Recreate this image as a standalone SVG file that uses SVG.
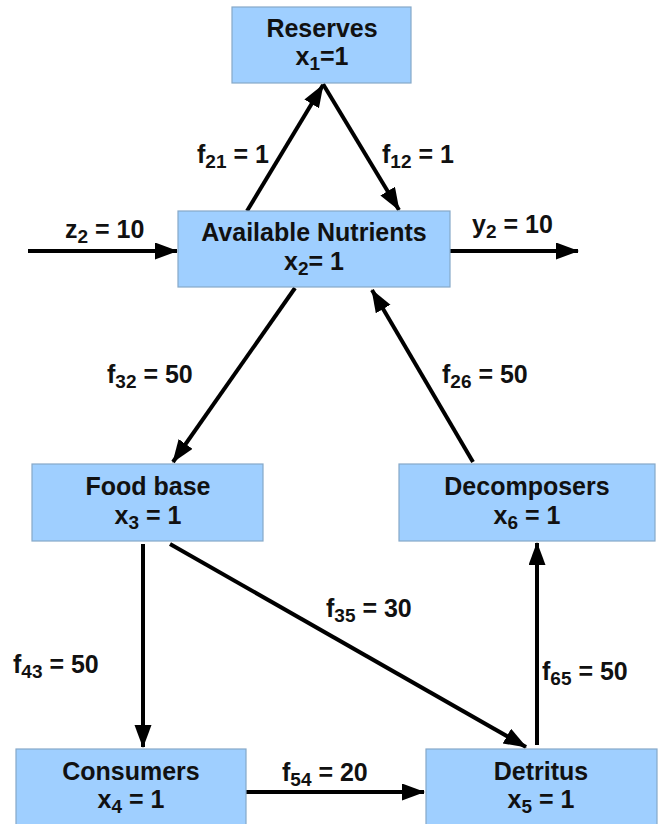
<svg xmlns="http://www.w3.org/2000/svg" width="659" height="824" viewBox="0 0 659 824">
<style>
.box{fill:#9fcfff;stroke:#86a8c8;stroke-width:1.2}
.t{font-family:"Liberation Sans",Arial,sans-serif;font-weight:bold;font-size:25px;fill:#111;text-anchor:middle}
.l{font-family:"Liberation Sans",Arial,sans-serif;font-weight:bold;font-size:25px;fill:#111}
.s{font-size:19px}
.c{stroke:#000;stroke-width:4;fill:none;marker-end:url(#ah)}
</style>
<defs>
<marker id="ah" markerUnits="userSpaceOnUse" markerWidth="24" markerHeight="18" refX="22" refY="8.5" orient="auto">
<path d="M0,0 L23,8.5 L0,17 z" fill="#000"/>
</marker>
</defs>
<g id="connectors">
<line class="c" x1="247" y1="211" x2="323" y2="85"/>
<line class="c" x1="323" y1="84" x2="399" y2="210"/>
<line class="c" x1="28" y1="251" x2="177" y2="251"/>
<line class="c" x1="450" y1="251" x2="578" y2="251"/>
<line class="c" x1="295" y1="288" x2="173" y2="462"/>
<line class="c" x1="473" y1="462" x2="372" y2="290"/>
<line class="c" x1="143" y1="544" x2="143" y2="747"/>
<line class="c" x1="170" y1="544" x2="526" y2="747"/>
<line class="c" x1="537" y1="745" x2="537" y2="543"/>
<line class="c" x1="246" y1="792" x2="424" y2="792"/>
<text class="l" x="197" y="163">f<tspan class="s" dy="5">21</tspan><tspan dy="-5"> = 1</tspan></text>
<text class="l" x="382" y="163">f<tspan class="s" dy="5">12</tspan><tspan dy="-5"> = 1</tspan></text>
<text class="l" x="65" y="238">z<tspan class="s" dy="5">2</tspan><tspan dy="-5"> = 10</tspan></text>
<text class="l" x="472" y="233">y<tspan class="s" dy="5">2</tspan><tspan dy="-5"> = 10</tspan></text>
<text class="l" x="107" y="383">f<tspan class="s" dy="5">32</tspan><tspan dy="-5"> = 50</tspan></text>
<text class="l" x="442" y="383">f<tspan class="s" dy="5">26</tspan><tspan dy="-5"> = 50</tspan></text>
<text class="l" x="326" y="617">f<tspan class="s" dy="5">35</tspan><tspan dy="-5"> = 30</tspan></text>
<text class="l" x="13" y="673">f<tspan class="s" dy="5">43</tspan><tspan dy="-5"> = 50</tspan></text>
<text class="l" x="542" y="680">f<tspan class="s" dy="5">65</tspan><tspan dy="-5"> = 50</tspan></text>
<text class="l" x="282" y="781">f<tspan class="s" dy="5">54</tspan><tspan dy="-5"> = 20</tspan></text>
</g>
<g id="reserves">
<rect class="box" x="232" y="7" width="179" height="76"/>
<text class="t" x="322" y="37">Reserves</text>
<text class="t" x="322" y="65">x<tspan class="s" dy="5">1</tspan><tspan dy="-5">=1</tspan></text>
</g>
<g id="nutrients">
<rect class="box" x="178" y="211" width="272" height="76"/>
<text class="t" x="314" y="241">Available Nutrients</text>
<text class="t" x="314" y="270">x<tspan class="s" dy="5">2</tspan><tspan dy="-5">= 1</tspan></text>
</g>
<g id="foodbase">
<rect class="box" x="32" y="464" width="231" height="77"/>
<text class="t" x="148" y="495">Food base</text>
<text class="t" x="148" y="524">x<tspan class="s" dy="5">3</tspan><tspan dy="-5"> = 1</tspan></text>
</g>
<g id="decomposers">
<rect class="box" x="399" y="464" width="256" height="77"/>
<text class="t" x="527" y="495">Decomposers</text>
<text class="t" x="527" y="524">x<tspan class="s" dy="5">6</tspan><tspan dy="-5"> = 1</tspan></text>
</g>
<g id="consumers">
<rect class="box" x="16" y="749" width="230" height="80"/>
<text class="t" x="131" y="780">Consumers</text>
<text class="t" x="131" y="808">x<tspan class="s" dy="5">4</tspan><tspan dy="-5"> = 1</tspan></text>
</g>
<g id="detritus">
<rect class="box" x="426" y="749" width="231" height="80"/>
<text class="t" x="541" y="780">Detritus</text>
<text class="t" x="541" y="808">x<tspan class="s" dy="5">5</tspan><tspan dy="-5"> = 1</tspan></text>
</g>
</svg>
